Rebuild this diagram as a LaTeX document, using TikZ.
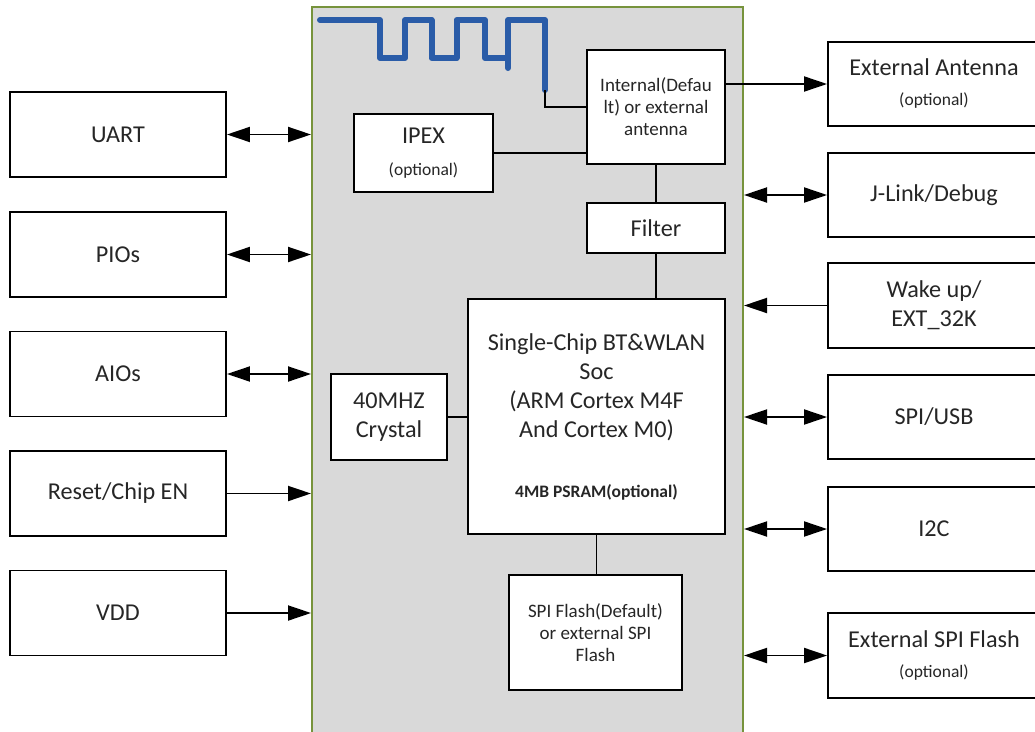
\documentclass[tikz,border=0pt]{standalone}
\usepackage{fontspec}
\setmainfont{Carlito}
\usetikzlibrary{arrows.meta}
\definecolor{maingray}{HTML}{D9D9D9}
\definecolor{mainborder}{HTML}{77933C}
\definecolor{antblue}{HTML}{2A5CA8}
\begin{document}
\begin{tikzpicture}[x=1pt,y=-1pt,
  box/.style={draw=black, fill=white, line width=1.9pt, align=center, inner sep=0pt,
    font=\fontsize{24.2}{29}\selectfont, text=black!85},
  small/.style={font=\fontsize{19}{22}\selectfont},
  opt/.style={font=\fontsize{17.5}{21}\selectfont},
  conn/.style={line width=1.9pt},
  dbl/.style={conn, {Triangle[length=23pt,width=15pt]}-{Triangle[length=23pt,width=15pt]}},
  one/.style={conn, -{Triangle[length=23pt,width=15pt]}}
]
\useasboundingbox (0,0) rectangle (1035,731);
% main module box
\node[draw=mainborder, fill=maingray, line width=2pt, minimum width=431pt, minimum height=753pt, inner sep=0pt] (main) at (527.5,383.5) {};

% left boxes
\node[box, minimum width=216pt, minimum height=85pt] (uart)  at (118,134.5) {UART};
\node[box, minimum width=216pt, minimum height=85pt] (pio)   at (118,254.5) {PIOs};
\node[box, minimum width=216pt, minimum height=85pt] (aio)   at (118,374)   {AIOs};
\node[box, minimum width=216pt, minimum height=85pt] (reset) at (118,493.5) {Reset/Chip EN};
\node[box, minimum width=216pt, minimum height=85pt] (vdd)   at (118,613)   {VDD};

% right boxes
\node[box, minimum width=212pt, minimum height=84pt] (extant) at (934,84)
  {External Antenna\\[1pt]{\fontsize{17.5}{21}\selectfont (optional)}};
\node[box, minimum width=212pt, minimum height=84pt] (jlink) at (934,195) {J-Link/Debug};
\node[box, minimum width=212pt, minimum height=85pt] (wake)  at (934,305.5) {Wake up/\\EXT\_32K};
\node[box, minimum width=212pt, minimum height=84pt] (spi)   at (934,417) {SPI/USB};
\node[box, minimum width=212pt, minimum height=84pt] (i2c)   at (934,529) {I2C};
\node[box, minimum width=212pt, minimum height=85pt] (extflash) at (934,655.5)
  {External SPI Flash\\[1pt]{\fontsize{17.5}{21}\selectfont (optional)}};

% inner boxes
\node[box, small, minimum width=138pt, minimum height=114pt] (ant) at (656,107)
  {Internal(Defau\\lt) or external\\antenna};
\node[box, minimum width=139pt, minimum height=78pt] (ipex) at (423.5,153)
  {IPEX\\[3pt]{\fontsize{17.5}{21}\selectfont (optional)}};
\node[box, minimum width=138pt, minimum height=50pt] (filter) at (656,228) {Filter};
\node[box, minimum width=257pt, minimum height=235pt] (soc) at (596.5,416.5)
  {Single-Chip BT\&WLAN\\Soc\\(ARM Cortex M4F\\And Cortex M0)\\[31pt]{\fontsize{17.5}{21}\selectfont\bfseries 4MB PSRAM(optional)}};
\node[box, minimum width=116pt, minimum height=86pt] (xtal) at (389,417) {40MHZ\\Crystal};
\node[box, small, minimum width=173pt, minimum height=115pt] (flash) at (595.5,632.5)
  {SPI Flash(Default)\\or external SPI\\Flash};

% antenna trace
\coordinate (antend) at (545,90);
\draw[antblue, line width=6pt, line cap=round, line join=round]
  (320,20) -- (380,20) -- (380,58) -- (405,58) -- (405,20) -- (431.5,20) -- (431.5,58)
  -- (456.5,58) -- (456.5,20) -- (485,20) -- (485,58) -- (508,58);
\draw[antblue, line width=6pt, line cap=round, line join=round]
  (508,68) -- (508,20) -- (545,20) -- (antend);
\draw[conn] (antend) |- (ant.west);

% internal connections
\draw[conn] (ipex.east) -- (ipex.east -| ant.west);
\draw[conn] (ant.south) -- (filter.north);
\draw[conn] (filter.south) -- (filter.south |- soc.north);
\draw[conn] (xtal.east) -- (xtal.east -| soc.west);
\draw[conn] (soc.south) -- (soc.south |- flash.north);
\draw[one] (ant.east |- extant.west) -- (extant.west);

% left connectors
\draw[dbl] (uart.east) -- (uart.east -| main.west);
\draw[dbl] (pio.east) -- (pio.east -| main.west);
\draw[dbl] (aio.east) -- (aio.east -| main.west);
\draw[one] (reset.east) -- (reset.east -| main.west);
\draw[one] (vdd.east) -- (vdd.east -| main.west);

% right connectors
\draw[dbl] (jlink.west -| main.east) -- (jlink.west);
\draw[one] (wake.west) -- (wake.west -| main.east);
\draw[dbl] (spi.west -| main.east) -- (spi.west);
\draw[dbl] (i2c.west -| main.east) -- (i2c.west);
\draw[dbl] (extflash.west -| main.east) -- (extflash.west);
\end{tikzpicture}
\end{document}
